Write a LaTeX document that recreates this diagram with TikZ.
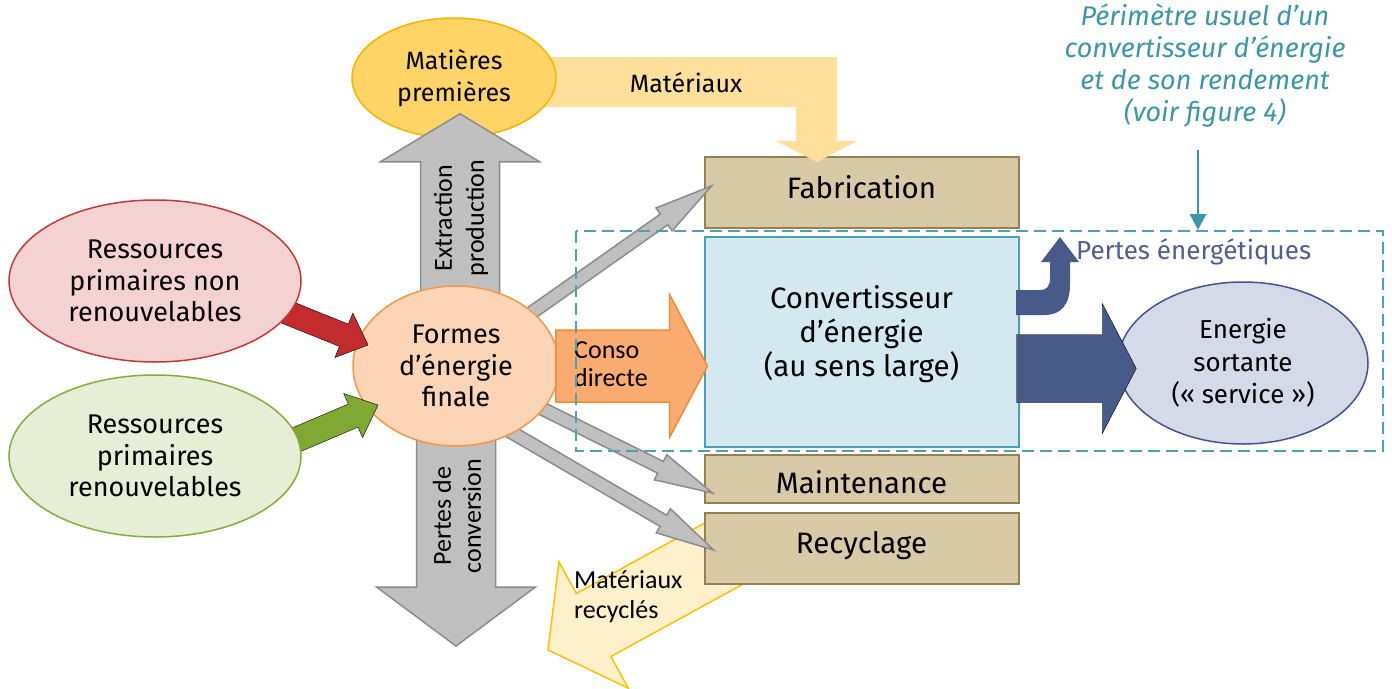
\documentclass[tikz,border=0pt]{standalone}
\usepackage{fontspec}
\setmainfont{Fira Sans}
\newfontfamily\calibfont{Carlito}
\usetikzlibrary{shapes.geometric,calc,arrows.meta}

\definecolor{greyfill}{HTML}{BFBFBF}
\definecolor{greyline}{HTML}{8C8C8C}
\definecolor{matfill}{HTML}{FFD467}
\definecolor{matline}{HTML}{F7B500}
\definecolor{bandfill}{HTML}{FFE09A}
\definecolor{recyfill}{HTML}{FFF0CC}
\definecolor{recyline}{HTML}{FFC000}
\definecolor{formfill}{HTML}{FBD5B5}
\definecolor{formline}{HTML}{F79646}
\definecolor{consofill}{HTML}{FAAC70}
\definecolor{consoline}{HTML}{F28B32}
\definecolor{redfill}{HTML}{F4D2D2}
\definecolor{redline}{HTML}{C0393B}
\definecolor{redarr}{HTML}{C32B2D}
\definecolor{grnfill}{HTML}{E6EFD5}
\definecolor{grnline}{HTML}{86AC3C}
\definecolor{grnarr}{HTML}{80A934}
\definecolor{tanfill}{HTML}{D8CAA6}
\definecolor{tanline}{HTML}{948150}
\definecolor{convfill}{HTML}{D3E9EF}
\definecolor{convline}{HTML}{4AA0B4}
\definecolor{navy}{HTML}{475A8A}
\definecolor{navyfill}{HTML}{D5DAE9}
\definecolor{navyline}{HTML}{45548C}
\definecolor{teal}{HTML}{3A97A8}
\definecolor{pertestxt}{HTML}{4F5E8E}

% block arrow: [style]{from}{to}{shaft half width}{head half width}{head length}
\newcommand{\blkarrow}[6][]{%
  \coordinate (hb) at ($(#3)!#6!(#2)$);
  \filldraw[#1] ($(#2)!#4!90:(#3)$) -- ($(hb)!#4!90:(#3)$) -- ($(hb)!#5!90:(#3)$) -- (#3)
    -- ($(hb)!#5!-90:(#3)$) -- ($(hb)!#4!-90:(#3)$) -- ($(#2)!#4!-90:(#3)$) -- cycle;
}

\begin{document}
\begin{tikzpicture}[x=1pt,y=-1pt,
  every node/.style={inner sep=0pt},
  bigtxt/.style={font=\fontsize{27}{31.5}\selectfont,align=center},
  midtxt/.style={font=\fontsize{25}{31.5}\selectfont,align=center},
  calibtxt/.style={font=\calibfont\fontsize{26}{30}\selectfont},
  tanbox/.style={draw=tanline,fill=tanfill,line width=2pt,minimum width=314pt},
  boxtxt/.style={font=\fontsize{29.5}{34}\selectfont},
  blob/.style={ellipse,line width=1.5pt,bigtxt},
  grey arrow/.style={fill=greyfill,draw=greyline,line width=1.5pt},
  recy arrow/.style={fill=recyfill,draw=recyline,line width=1.5pt},
  conso arrow/.style={fill=consofill,draw=consoline,line width=1.5pt},
  perimbox/.style={draw=teal!90,line width=2pt,dash pattern=on 12pt off 6pt}]
\useasboundingbox (0,0) rectangle (1392,688);

\coordinate (fc) at (456,366);
\coordinate (fc2) at (456,400);
\coordinate (nrc) at (155,281);
\coordinate (rnc) at (155,456);

% materiaux recycles
\coordinate (recsrc) at (734,548);
\coordinate (rectip) at (548,650);
\blkarrow[recy arrow]{recsrc}{rectip}{36pt}{72pt}{52pt}
\node[calibtxt,anchor=west,align=left] (recylbl) at (574,597) {Matériaux\\recyclés};

\node[tanbox,minimum height=71pt] (fab) at (861.5,192.5) {};
\node[tanbox,draw=convline,fill=convfill,minimum height=210pt] (conv) at (861.5,342) {};
\node[tanbox,minimum height=48pt] (maint) at (861.5,479) {};
\node[tanbox,minimum height=71pt] (recyc) at (861.5,548.5) {};
\node[boxtxt] (fablbl) at ($(fab.center)+(0,-5)$) {Fabrication};
\node[boxtxt,align=center] (convlbl) at ($(conv.center)+(0,-8)$) {Convertisseur\\d’énergie\\(au sens large)};
\node[boxtxt] (maintlbl) at ($(maint.center)+(0,3)$) {Maintenance};
\node[boxtxt] (recyclbl) at ($(recyc.center)+(0,-3)$) {Recyclage};

\fill[bandfill] (454,57) -- (837,57) -- (837,141) -- (857,141) -- (817,162) -- (776,141) -- (796,141) -- (796,107) -- (454,107) -- cycle;
\node[midtxt] (matlbl) at (686,83) {Matériaux};
\node[blob,draw=matline,fill=matfill,minimum width=204pt,minimum height=120pt,midtxt] (mat) at (454,78) {Matières\\premières};

\coordinate (extsrc) at (460,360);
\coordinate (exttip) at ($(mat.south)+(6,-25)$);
\blkarrow[grey arrow]{extsrc}{exttip}{39.5pt}{79.5pt}{48pt}
\node[calibtxt,rotate=90,align=center,font=\calibfont\fontsize{26}{32}\selectfont] (extlbl) at (461,218) {Extraction\\production};

\coordinate (pcsrc) at (456,370);
\coordinate (pctip) at (456,646);
\blkarrow[grey arrow]{pcsrc}{pctip}{39.5pt}{79.5pt}{59pt}
\node[calibtxt,rotate=90,align=center] (pclbl) at (457,516) {Pertes de\\conversion};

\coordinate (fabtip) at ($(fab.west)+(8,-6.5)$);
\coordinate (mainttip) at ($(maint.west)+(9,14)$);
\coordinate (recyctip) at ($(recyc.west)+(10,1.5)$);
\blkarrow[grey arrow]{fc}{fabtip}{6.5pt}{14pt}{58pt}
\blkarrow[grey arrow]{fc}{mainttip}{6.5pt}{14pt}{58pt}
\blkarrow[grey arrow]{fc2}{recyctip}{6.5pt}{14pt}{58pt}

\node[blob,draw=formline,fill=formfill,minimum width=206pt,minimum height=160pt] (formes) at (fc) {Formes\\d’énergie\\finale};

\coordinate (consrc) at ($(formes.east)+(-4,0)$);
\coordinate (contip) at ($(conv.west)+(4,24)$);
\blkarrow[conso arrow]{consrc}{contip}{36pt}{71.5pt}{38pt}
\node[calibtxt,anchor=west,align=left,font=\calibfont\fontsize{26}{28.5}\selectfont] (conlbl) at (574,364) {Conso\\directe};

\coordinate (redsrc) at (275,307.5);
\coordinate (redtip) at ($(formes.center)+(-88,-21)$);
\blkarrow[fill=redarr]{redsrc}{redtip}{12pt}{24pt}{26pt}
\coordinate (grnsrc) at (284,445);
\coordinate (grntip) at ($(formes.center)+(-78,39)$);
\blkarrow[fill=grnarr]{grnsrc}{grntip}{12.5pt}{24pt}{27pt}

\node[blob,draw=redline,fill=redfill,minimum width=292pt,minimum height=162pt] (nonren) at (nrc) {Ressources\\primaires non\\renouvelables};
\node[blob,draw=grnline,fill=grnfill,minimum width=292pt,minimum height=162pt] (ren) at (rnc) {Ressources\\primaires\\renouvelables};

\node[blob,draw=navyline,fill=navyfill,minimum width=250pt,minimum height=162pt,font=\fontsize{26}{32.5}\selectfont] (sortie) at (1243,363) {Energie\\sortante\\(«~service~»)};

\coordinate (navsrc) at ($(conv.east)+(-3,26.5)$);
\coordinate (navtip) at ($(sortie.west)+(19,5.5)$);
\blkarrow[fill=navy]{navsrc}{navtip}{34pt}{65pt}{34pt}
\fill[navy] (1016,290) -- (1040,290) .. controls (1047,290) and (1050,286) .. (1050,278) -- (1050,262) -- (1041,262) -- (1060,237) -- (1079,262) -- (1070,262) -- (1070,284) .. controls (1070,304) and (1062,315) .. (1044,315) -- (1016,315) -- cycle;

\draw[perimbox] (576,231) rectangle (1383,451);

\node[font=\itshape\fontsize{27}{32}\selectfont,align=center,text=teal] (perim) at (1205,66) {Périmètre usuel d’un\\convertisseur d’énergie\\et de son rendement\\(voir figure 4)};
\coordinate (perimtop) at (1198,150);
\coordinate (perimtip) at (1198,230);
\draw[teal,line width=2.5pt,-{Triangle[width=16pt,length=16pt]}] (perimtop) -- (perimtip);

\node[font=\fontsize{26}{31.5}\selectfont,anchor=west,text=pertestxt] (pertes) at (1076,252) {Pertes énergétiques};
\end{tikzpicture}
\end{document}
